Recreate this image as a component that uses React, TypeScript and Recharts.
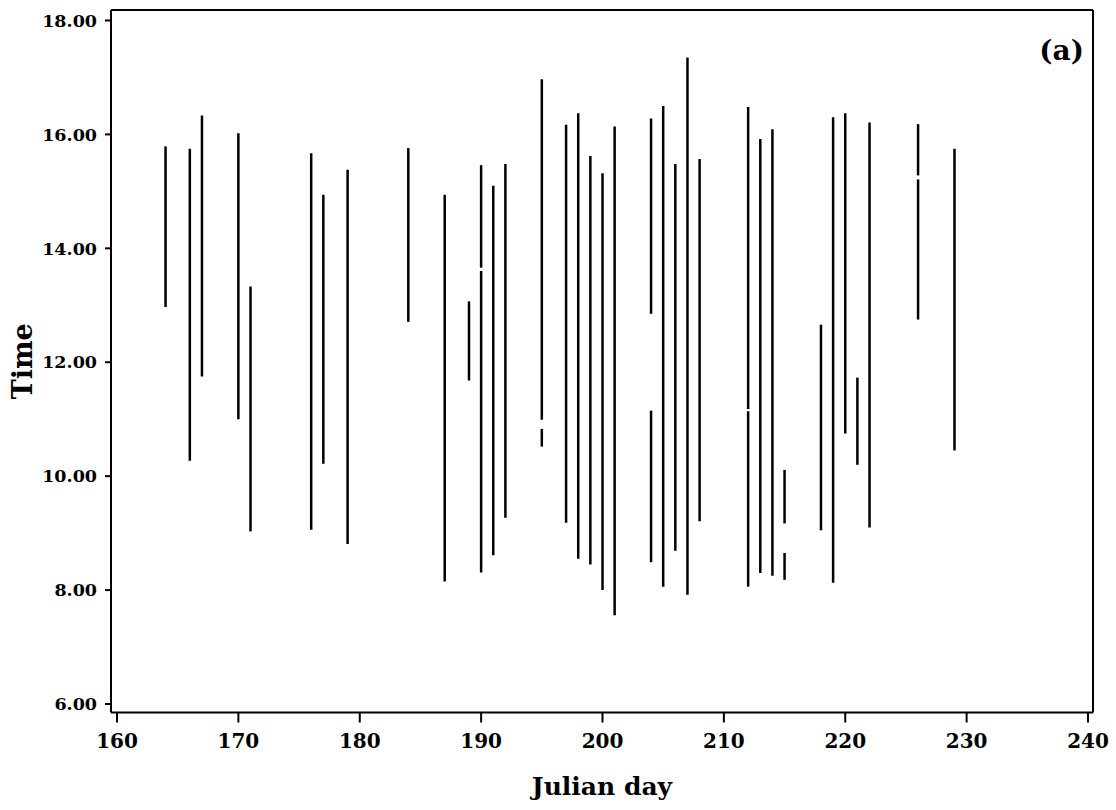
import React from 'react';
import { ComposedChart, XAxis, YAxis, ReferenceLine, Label } from 'recharts';

// Observation periods: one entry per continuous interval (day, start hour, end hour)
const days = [
  164, 166, 167, 170, 171, 176, 177, 179, 184, 187, 189, 190, 190, 191, 192,
  195, 195, 197, 198, 199, 200, 201, 204, 204, 205, 206, 207, 208, 212, 212,
  213, 214, 215, 215, 218, 219, 220, 221, 222, 226, 226, 229,
];
const startTimes = [
  12.97, 10.27, 11.75, 11.0, 9.03, 9.06, 10.22, 8.81, 12.71, 8.15, 11.68, 8.31, 13.66, 8.61, 9.27,
  10.52, 10.99, 9.18, 8.55, 8.45, 8.0, 7.56, 8.49, 12.85, 8.06, 8.69, 7.92, 9.21, 8.06, 11.18,
  8.3, 8.25, 8.18, 9.17, 9.05, 8.13, 10.75, 10.2, 9.1, 12.75, 15.28, 10.45,
];
const endTimes = [
  15.79, 15.75, 16.33, 16.02, 13.33, 15.67, 14.94, 15.38, 15.76, 14.94, 13.07, 13.6, 15.46, 15.1, 15.48,
  10.83, 16.97, 16.17, 16.37, 15.62, 15.32, 16.14, 11.15, 16.28, 16.5, 15.48, 17.35, 15.57, 11.14, 16.48,
  15.92, 16.09, 8.65, 10.11, 12.66, 16.3, 16.37, 11.73, 16.21, 15.21, 16.18, 15.75,
];

const dayTicks = [160, 170, 180, 190, 200, 210, 220, 230, 240];
const timeTicks = [6, 8, 10, 12, 14, 16, 18];

const FONT = "'DejaVu Serif', serif";
const INK = '#000';

const rows = days.map((d, i) => ({ day: d, start: startTimes[i], end: endTimes[i] }));

const tickStyle = (size: number) => ({
  fill: INK,
  fontSize: size,
  fontWeight: 'bold' as const,
  fontFamily: FONT,
});

export default function App() {
  return (
    <div style={{ position: 'absolute', left: 0, top: 0, background: '#fff' }}>
      <ComposedChart
        width={1116}
        height={810}
        data={rows}
        margin={{ top: 9, right: 22, bottom: 0, left: 0 }}
      >
        <XAxis
          xAxisId="bottom"
          type="number"
          dataKey="day"
          domain={[160, 240]}
          ticks={dayTicks}
          interval={0}
          allowDataOverflow
          padding={{ left: 6, right: 5 }}
          height={97.5}
          tickSize={10}
          tickMargin={11}
          axisLine={{ stroke: INK, strokeWidth: 2 }}
          tickLine={{ stroke: INK, strokeWidth: 2 }}
          tick={tickStyle(20)}
        >
          <Label
            value="Julian day"
            position="insideBottom"
            offset={15}
            style={{ fill: INK, fontSize: 25, fontWeight: 'bold', fontFamily: FONT }}
          />
        </XAxis>
        <XAxis
          xAxisId="top"
          orientation="top"
          type="number"
          domain={[160, 240]}
          allowDataOverflow
          padding={{ left: 6, right: 5 }}
          height={1}
          tick={false}
          tickLine={false}
          axisLine={{ stroke: INK, strokeWidth: 2 }}
        >
          <Label
            content={(props: any) => {
              const vb = props.viewBox || { x: 111, y: 10, width: 982, height: 1 };
              return (
                <text
                  x={vb.x + vb.width - 9}
                  y={vb.y + vb.height + 50}
                  textAnchor="end"
                  fill={INK}
                  fontSize={28}
                  fontWeight="bold"
                  fontFamily={FONT}
                >
                  (a)
                </text>
              );
            }}
          />
        </XAxis>
        <YAxis
          yAxisId="left"
          type="number"
          domain={[6, 18]}
          ticks={timeTicks}
          interval={0}
          allowDataOverflow
          padding={{ top: 10.5, bottom: 8.5 }}
          width={111}
          tickSize={6}
          tickMargin={8}
          tickFormatter={(v: number) => v.toFixed(2)}
          axisLine={{ stroke: INK, strokeWidth: 2 }}
          tickLine={{ stroke: INK, strokeWidth: 2 }}
          tick={tickStyle(17.5)}
        >
          <Label
            value="Time"
            angle={-90}
            position="insideLeft"
            offset={22}
            style={{ textAnchor: 'middle', fill: INK, fontSize: 27, fontWeight: 'bold', fontFamily: FONT }}
          />
        </YAxis>
        <YAxis
          yAxisId="right"
          orientation="right"
          type="number"
          domain={[6, 18]}
          allowDataOverflow
          padding={{ top: 10.5, bottom: 8.5 }}
          width={1}
          tick={false}
          tickLine={false}
          axisLine={{ stroke: INK, strokeWidth: 2 }}
        />
        {rows.map((r, i) => (
          <ReferenceLine
            key={`seg-${i}`}
            xAxisId="bottom"
            yAxisId="left"
            segment={[
              { x: r.day, y: r.start },
              { x: r.day, y: r.end },
            ]}
            stroke={INK}
            strokeWidth={2.5}
          />
        ))}
      </ComposedChart>
    </div>
  );
}
